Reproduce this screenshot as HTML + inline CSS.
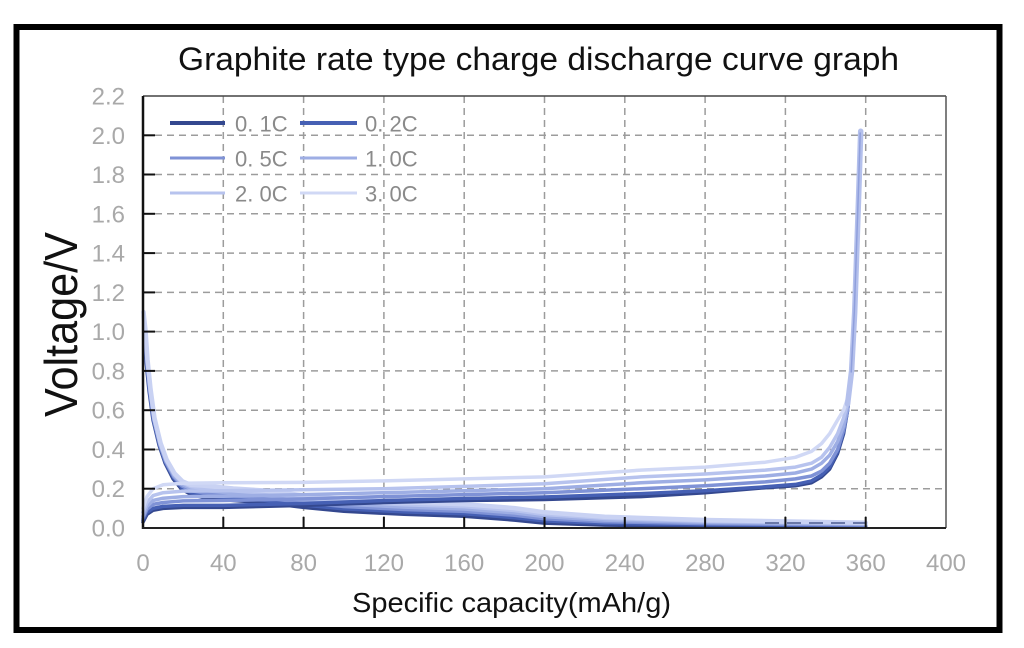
<!DOCTYPE html>
<html>
<head>
<meta charset="utf-8">
<style>
html,body{margin:0;padding:0;background:#fff;}
svg{display:block;}
text{font-family:"Liberation Sans",Arial,sans-serif;}
</style>
</head>
<body>
<svg width="1024" height="648" viewBox="0 0 1024 648" xmlns="http://www.w3.org/2000/svg">
<rect x="0" y="0" width="1024" height="648" fill="#fff"/>
<!-- outer frame -->
<rect x="16.5" y="27" width="983" height="603" fill="none" stroke="#000" stroke-width="6"/>

<!-- title -->
<text x="178" y="70" font-size="32" fill="#111" textLength="721" lengthAdjust="spacingAndGlyphs">Graphite rate type charge discharge curve graph</text>

<!-- gridlines -->
<g stroke="#9c9c9c" stroke-width="1.5" stroke-dasharray="7 5" fill="none">
<line x1="143" y1="488.7" x2="946" y2="488.7"/>
<line x1="143" y1="449.5" x2="946" y2="449.5"/>
<line x1="143" y1="410.2" x2="946" y2="410.2"/>
<line x1="143" y1="370.9" x2="946" y2="370.9"/>
<line x1="143" y1="331.6" x2="946" y2="331.6"/>
<line x1="143" y1="292.4" x2="946" y2="292.4"/>
<line x1="143" y1="253.1" x2="946" y2="253.1"/>
<line x1="143" y1="213.8" x2="946" y2="213.8"/>
<line x1="143" y1="174.5" x2="946" y2="174.5"/>
<line x1="143" y1="135.3" x2="946" y2="135.3"/>
<line x1="223.3" y1="96" x2="223.3" y2="528"/>
<line x1="303.6" y1="96" x2="303.6" y2="528"/>
<line x1="383.9" y1="96" x2="383.9" y2="528"/>
<line x1="464.2" y1="96" x2="464.2" y2="528"/>
<line x1="544.5" y1="96" x2="544.5" y2="528"/>
<line x1="624.8" y1="96" x2="624.8" y2="528"/>
<line x1="705.1" y1="96" x2="705.1" y2="528"/>
<line x1="785.4" y1="96" x2="785.4" y2="528"/>
<line x1="865.7" y1="96" x2="865.7" y2="528"/>
</g>

<!-- plot frame -->
<line x1="143" y1="96" x2="946" y2="96" stroke="#444" stroke-width="1.5"/>
<line x1="946" y1="96" x2="946" y2="528" stroke="#555" stroke-width="1.5"/>

<!-- curves: lithiation (discharge), darkest first -->
<g fill="none" stroke-width="3.5" stroke-linejoin="round" stroke-linecap="round">
<polyline stroke="#34488f" points="143.5,312 144,331.6 146,361.1 149,390.5 153,420 159.1,445.5 165.1,463.2 173.1,478.9 181.1,488.7 191.2,494.6 203.2,497.6 233.3,500.5 263.5,502.5 303.6,507.4 343.8,511.3 404,514.3 464.2,516.2 514.4,520.1 544.5,523.1 604.7,525.1 705.1,526 865.7,526.4"/>
<polyline stroke="#4660b4" points="143.5,312 144.3,331.4 146.3,360.7 149.3,390.1 153.3,419.6 159.4,445 165.4,462.5 173.4,477.8 181.4,487.3 191.2,492.7 203.2,495.2 233.3,498.1 263.5,500.1 303.6,505 343.8,508.9 404,511.9 464.2,513.8 514.4,517.7 544.5,520.9 604.7,523.4 705.1,524.8 865.7,525.7"/>
<polyline stroke="#7f92d6" points="143.5,312 144.6,331.1 146.6,360.4 149.6,389.8 153.6,419.3 159.7,444.5 165.7,461.8 173.7,476.7 181.7,485.8 191.2,490.8 203.2,492.8 233.3,495.7 263.5,497.7 303.6,502.6 343.8,506.5 404,509.5 464.2,511.4 514.4,515.3 544.5,518.8 604.7,521.7 705.1,523.6 865.7,525"/>
<polyline stroke="#9eaee4" points="143.5,312 144.9,330.9 146.9,360 149.9,389.4 153.9,418.9 160,444.1 166,461 174,475.7 182,484.4 191.2,488.8 203.2,490.4 233.3,493.3 263.5,495.3 303.6,500.2 343.8,504.1 404,507.1 464.2,509 514.4,512.9 544.5,516.6 604.7,520.1 705.1,522.4 865.7,524.2"/>
<polyline stroke="#b7c3ee" points="143.5,312 145.2,330.6 147.2,359.7 150.2,389.1 154.2,418.6 160.3,443.6 166.3,460.3 174.3,474.6 182.3,482.9 191.2,486.9 203.2,488 233.3,490.9 263.5,492.9 303.6,497.8 343.8,501.7 404,504.7 464.2,506.6 514.4,510.5 544.5,514.5 604.7,518.4 705.1,521.2 865.7,523.5"/>
<polyline stroke="#c9d2f3" stroke-width="4.5" points="143.5,312 145.5,330.4 147.5,359.3 150.5,388.7 154.5,418.2 160.6,443.1 166.6,459.6 174.6,473.5 182.6,481.5 191.2,485 203.2,485.6 233.3,488.5 263.5,490.5 303.6,495.4 343.8,499.3 404,502.3 464.2,504.2 514.4,508.1 544.5,512.3 604.7,516.7 705.1,520 865.7,522.8"/>
</g>
<line x1="765" y1="523" x2="866" y2="523" stroke="#6a78a8" stroke-width="2" stroke-dasharray="14 8"/>

<!-- curves: delithiation (charge), darkest first -->
<g fill="none" stroke-width="3.5" stroke-linejoin="round" stroke-linecap="round">
<polyline stroke="#34488f" points="143,522.1 147,514.3 153,510.3 163.1,508.4 183.2,507.4 223.3,507.4 303.6,505.4 383.9,502.5 464.2,500.5 544.5,499.5 640.9,496.6 705.1,492.7 765.3,487.7 795.4,485.8 811.5,482.8 821.5,476.9 829.6,469.1 837.6,453.4 843.6,433.7 847.6,410.2 851.6,370.9 854.7,312 856.7,253.1 858.7,194.2 860.7,131.3"/>
<polyline stroke="#4660b4" points="143,520.1 147,512.3 153,508.4 163.1,506.4 183.2,505.4 223.3,505.4 303.6,503.5 383.9,500.5 464.2,498.5 544.5,497 640.9,493.6 705.1,490.7 765.3,486.8 795.4,484.4 811.5,480.9 821.5,475 829.6,467.1 837.6,451.4 843.6,431.8 847.6,410.2 851.6,370.9 854.7,312 856.7,253.1 858.7,194.2 860.7,131.3"/>
<polyline stroke="#7f92d6" points="143,518.2 147,509.3 153,504.4 163.1,502.5 183.2,500.9 223.3,500.5 303.6,498.9 383.9,496.6 464.2,494.6 544.5,492.7 640.9,488.7 705.1,485.8 765.3,481.9 795.4,478.9 811.5,476 821.5,471.1 829.6,463.2 837.6,449.5 843.6,429.8 847.6,410.2 851.6,370.9 854.7,312 856.7,253.1 858.7,194.2 860.7,131.3"/>
<polyline stroke="#9eaee4" points="143,516.2 147,506.4 153,500.5 163.1,498.2 183.2,496.6 223.3,496.2 303.6,494.6 383.9,492.7 464.2,490.7 544.5,488.7 640.9,482.8 705.1,479.9 765.3,476 795.4,473 811.5,469.1 821.5,463.2 829.6,455.3 837.6,441.6 843.6,425.9 847.6,406.3 851.6,370.9 854.7,312 856.7,253.1 858.7,194.2 860.7,131.3"/>
<polyline stroke="#b7c3ee" points="143,512.3 147,502.5 153,495.6 163.1,492.7 183.2,491.1 223.3,490.7 303.6,489.7 383.9,488.7 464.2,486.4 544.5,483.8 640.9,476.9 705.1,474 765.3,470.1 795.4,467.1 811.5,463.2 821.5,457.3 829.6,447.5 837.6,433.7 843.6,418 847.6,402.3 851.6,370.9 854.7,312 856.7,253.1 858.7,194.2 860.7,131.3"/>
<polyline stroke="#d0d8f5" points="143,508.4 147,496.6 153,488.7 163.1,484.8 183.2,483.2 223.3,482.8 303.6,482.4 383.9,480.9 464.2,478.9 544.5,476.9 640.9,470.1 705.1,467.1 765.3,462.2 795.4,457.3 811.5,451.4 821.5,443.6 829.6,433.7 837.6,420 843.6,410.2 847.6,398.4"/>
<!-- steep rise: pale wide stroke on top -->
<polyline stroke="#b4c0ec" stroke-width="5.5" points="847.6,404 851.6,370.9 854.7,312 856.7,253.1 858.7,194.2 860.7,131.3"/>
<polyline stroke="#8f9fdc" stroke-width="1.5" points="851.2,372 854.3,312 856.3,253.1 858.3,194.2 860.2,133"/>
</g>

<!-- axes -->
<line x1="143" y1="96" x2="143" y2="529" stroke="#111" stroke-width="2.5"/>
<line x1="142" y1="528" x2="946" y2="528" stroke="#222" stroke-width="2"/>
<g stroke="#111" stroke-width="2">
<line x1="143" y1="488.7" x2="155" y2="488.7"/>
<line x1="143" y1="449.5" x2="155" y2="449.5"/>
<line x1="143" y1="410.2" x2="155" y2="410.2"/>
<line x1="143" y1="370.9" x2="155" y2="370.9"/>
<line x1="143" y1="331.6" x2="155" y2="331.6"/>
<line x1="143" y1="292.4" x2="155" y2="292.4"/>
<line x1="143" y1="253.1" x2="155" y2="253.1"/>
<line x1="143" y1="213.8" x2="155" y2="213.8"/>
<line x1="143" y1="174.5" x2="155" y2="174.5"/>
<line x1="143" y1="135.3" x2="155" y2="135.3"/>
<line x1="223.3" y1="528" x2="223.3" y2="517"/>
<line x1="303.6" y1="528" x2="303.6" y2="517"/>
<line x1="383.9" y1="528" x2="383.9" y2="517"/>
<line x1="464.2" y1="528" x2="464.2" y2="517"/>
<line x1="544.5" y1="528" x2="544.5" y2="517"/>
<line x1="624.8" y1="528" x2="624.8" y2="517"/>
<line x1="705.1" y1="528" x2="705.1" y2="517"/>
<line x1="785.4" y1="528" x2="785.4" y2="517"/>
<line x1="865.7" y1="528" x2="865.7" y2="517"/>
</g>

<!-- y tick labels -->
<g font-size="24" fill="#a9a9a9" text-anchor="end">
<text x="125" y="536.5">0.0</text>
<text x="125" y="497.2">0.2</text>
<text x="125" y="458">0.4</text>
<text x="125" y="418.7">0.6</text>
<text x="125" y="379.4">0.8</text>
<text x="125" y="340.1">1.0</text>
<text x="125" y="300.9">1.2</text>
<text x="125" y="261.6">1.4</text>
<text x="125" y="222.3">1.6</text>
<text x="125" y="183">1.8</text>
<text x="125" y="143.8">2.0</text>
<text x="125" y="104.5">2.2</text>
</g>
<!-- x tick labels -->
<g font-size="24" fill="#a9a9a9" text-anchor="middle">
<text x="143" y="571">0</text>
<text x="223.3" y="571">40</text>
<text x="303.6" y="571">80</text>
<text x="383.9" y="571">120</text>
<text x="464.2" y="571">160</text>
<text x="544.5" y="571">200</text>
<text x="624.8" y="571">240</text>
<text x="705.1" y="571">280</text>
<text x="785.4" y="571">320</text>
<text x="865.7" y="571">360</text>
<text x="946" y="571">400</text>
</g>

<!-- axis titles -->
<text x="352" y="612" font-size="28" fill="#111" textLength="319" lengthAdjust="spacingAndGlyphs">Specific capacity(mAh/g)</text>
<text transform="translate(77,324.5) rotate(-90)" x="0" y="0" font-size="46" fill="#111" text-anchor="middle" textLength="185" lengthAdjust="spacingAndGlyphs">Voltage/V</text>

<!-- legend -->
<g stroke-linecap="butt">
<line x1="170" y1="123" x2="225" y2="123" stroke="#34488f" stroke-width="4"/>
<line x1="300" y1="123" x2="357" y2="123" stroke="#4660b4" stroke-width="4"/>
<line x1="170" y1="158" x2="225" y2="158" stroke="#7f92d6" stroke-width="3"/>
<line x1="300" y1="158" x2="357" y2="158" stroke="#9eaee4" stroke-width="3"/>
<line x1="170" y1="193" x2="225" y2="193" stroke="#b7c3ee" stroke-width="3"/>
<line x1="300" y1="193" x2="357" y2="193" stroke="#d0d8f5" stroke-width="3"/>
</g>
<g font-size="22" fill="#8a8a8a">
<text x="235" y="131.5">0. 1C</text>
<text x="365" y="131.5">0. 2C</text>
<text x="235" y="166.5">0. 5C</text>
<text x="365" y="166.5">1. 0C</text>
<text x="235" y="201.5">2. 0C</text>
<text x="365" y="201.5">3. 0C</text>
</g>
</svg>
</body>
</html>
